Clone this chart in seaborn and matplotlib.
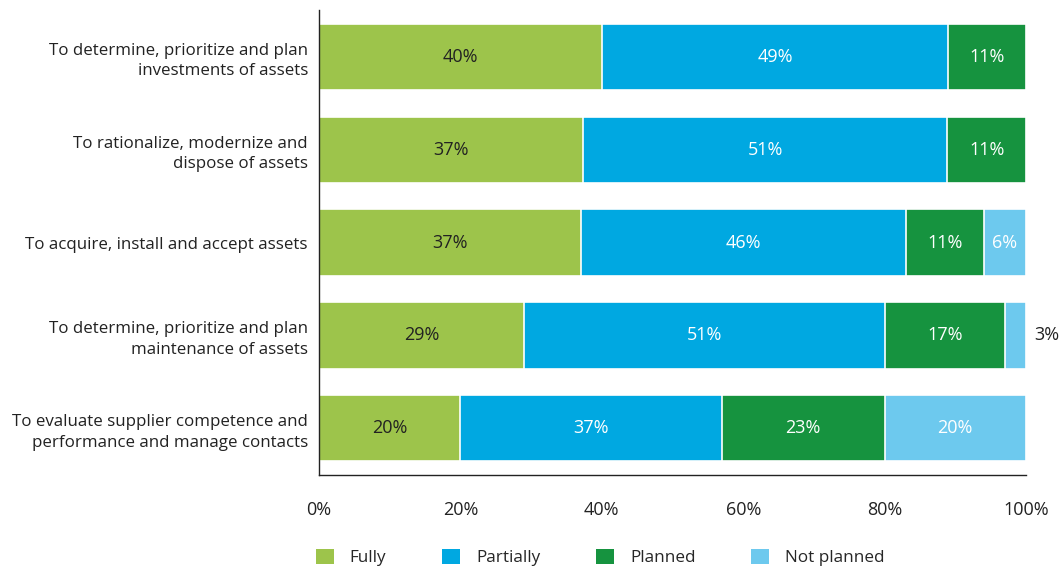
import numpy as np
import pandas as pd
import seaborn as sns
import matplotlib.pyplot as plt
from matplotlib.patches import Patch

categories = [
    'To determine, prioritize and plan\ninvestments of assets',
    'To rationalize, modernize and\ndispose of assets',
    'To acquire, install and accept assets',
    'To determine, prioritize and plan\nmaintenance of assets',
    'To evaluate supplier competence and\nperformance and manage contacts',
]
series = ['Fully', 'Partially', 'Planned', 'Not planned']
fully = [40, 37, 37, 29, 20]
partially = [49, 51, 46, 51, 37]
planned = [11, 11, 11, 17, 23]
not_planned = [0, 0, 6, 3, 20]
colors = ['#9dc44b', '#00a8e1', '#16933f', '#6dc9ee']
label_colors = ['#222222', 'white', 'white', 'white']

sns.set_style('white')
plt.rcParams['font.family'] = ['Open Sans', 'DejaVu Sans']

vals = np.array([fully, partially, planned, not_planned], dtype=float)
# rows are rounded survey shares; scale each bar to 100%
widths = vals / vals.sum(axis=0) * 100
cum = np.cumsum(widths, axis=0)

fig = plt.figure(figsize=(10.62, 5.67), dpi=100)
ax = fig.add_axes([0.3004, 0.1623, 0.6657, 0.8200])

# draw cumulative bars back to front so they stack
for i in range(3, -1, -1):
    df = pd.DataFrame({'cat': categories, 'val': cum[i]})
    sns.barplot(data=df, x='val', y='cat', color=colors[i], width=0.71,
                edgecolor='white', linewidth=1.2, saturation=1, ax=ax)

for i in range(4):
    for j, cat in enumerate(categories):
        v = vals[i, j]
        if v == 0:
            continue
        if v < 5:
            ax.text(cum[i, j] + 1.2, j, f'{int(v)}%', ha='left', va='center',
                    fontsize=13, color='#222222', clip_on=False)
        else:
            ax.text(cum[i, j] - widths[i, j] / 2, j, f'{int(v)}%', ha='center',
                    va='center', fontsize=13, color=label_colors[i])

ax.set_xlim(0, 100)
ax.set_ylim(4.5, -0.5)
ax.set_xticks([0, 20, 40, 60, 80, 100])
ax.set_xticklabels([f'{t}%' for t in [0, 20, 40, 60, 80, 100]])
ax.tick_params(axis='x', length=0, pad=19, labelsize=13, colors='#222222')
ax.tick_params(axis='y', length=0, pad=8, labelsize=12.2, colors='#222222')
ax.set_xlabel('')
ax.set_ylabel('')
for lbl in ax.get_yticklabels():
    lbl.set_horizontalalignment('right')
    lbl.set_multialignment('right')
    lbl.set_linespacing(1.35)
for s in ['top', 'right']:
    ax.spines[s].set_visible(False)
for s in ['left', 'bottom']:
    ax.spines[s].set_color('#222222')
    ax.spines[s].set_linewidth(1.0)

handles = [Patch(facecolor=c, edgecolor='none') for c in colors]
fig.legend(handles, series, loc='lower left', bbox_to_anchor=(0.283, -0.026),
           ncol=4, frameon=False, fontsize=12.3, handlelength=1.05,
           handleheight=1.05, handletextpad=0.93, columnspacing=3.27)

fig.savefig('out.png', dpi=100)
